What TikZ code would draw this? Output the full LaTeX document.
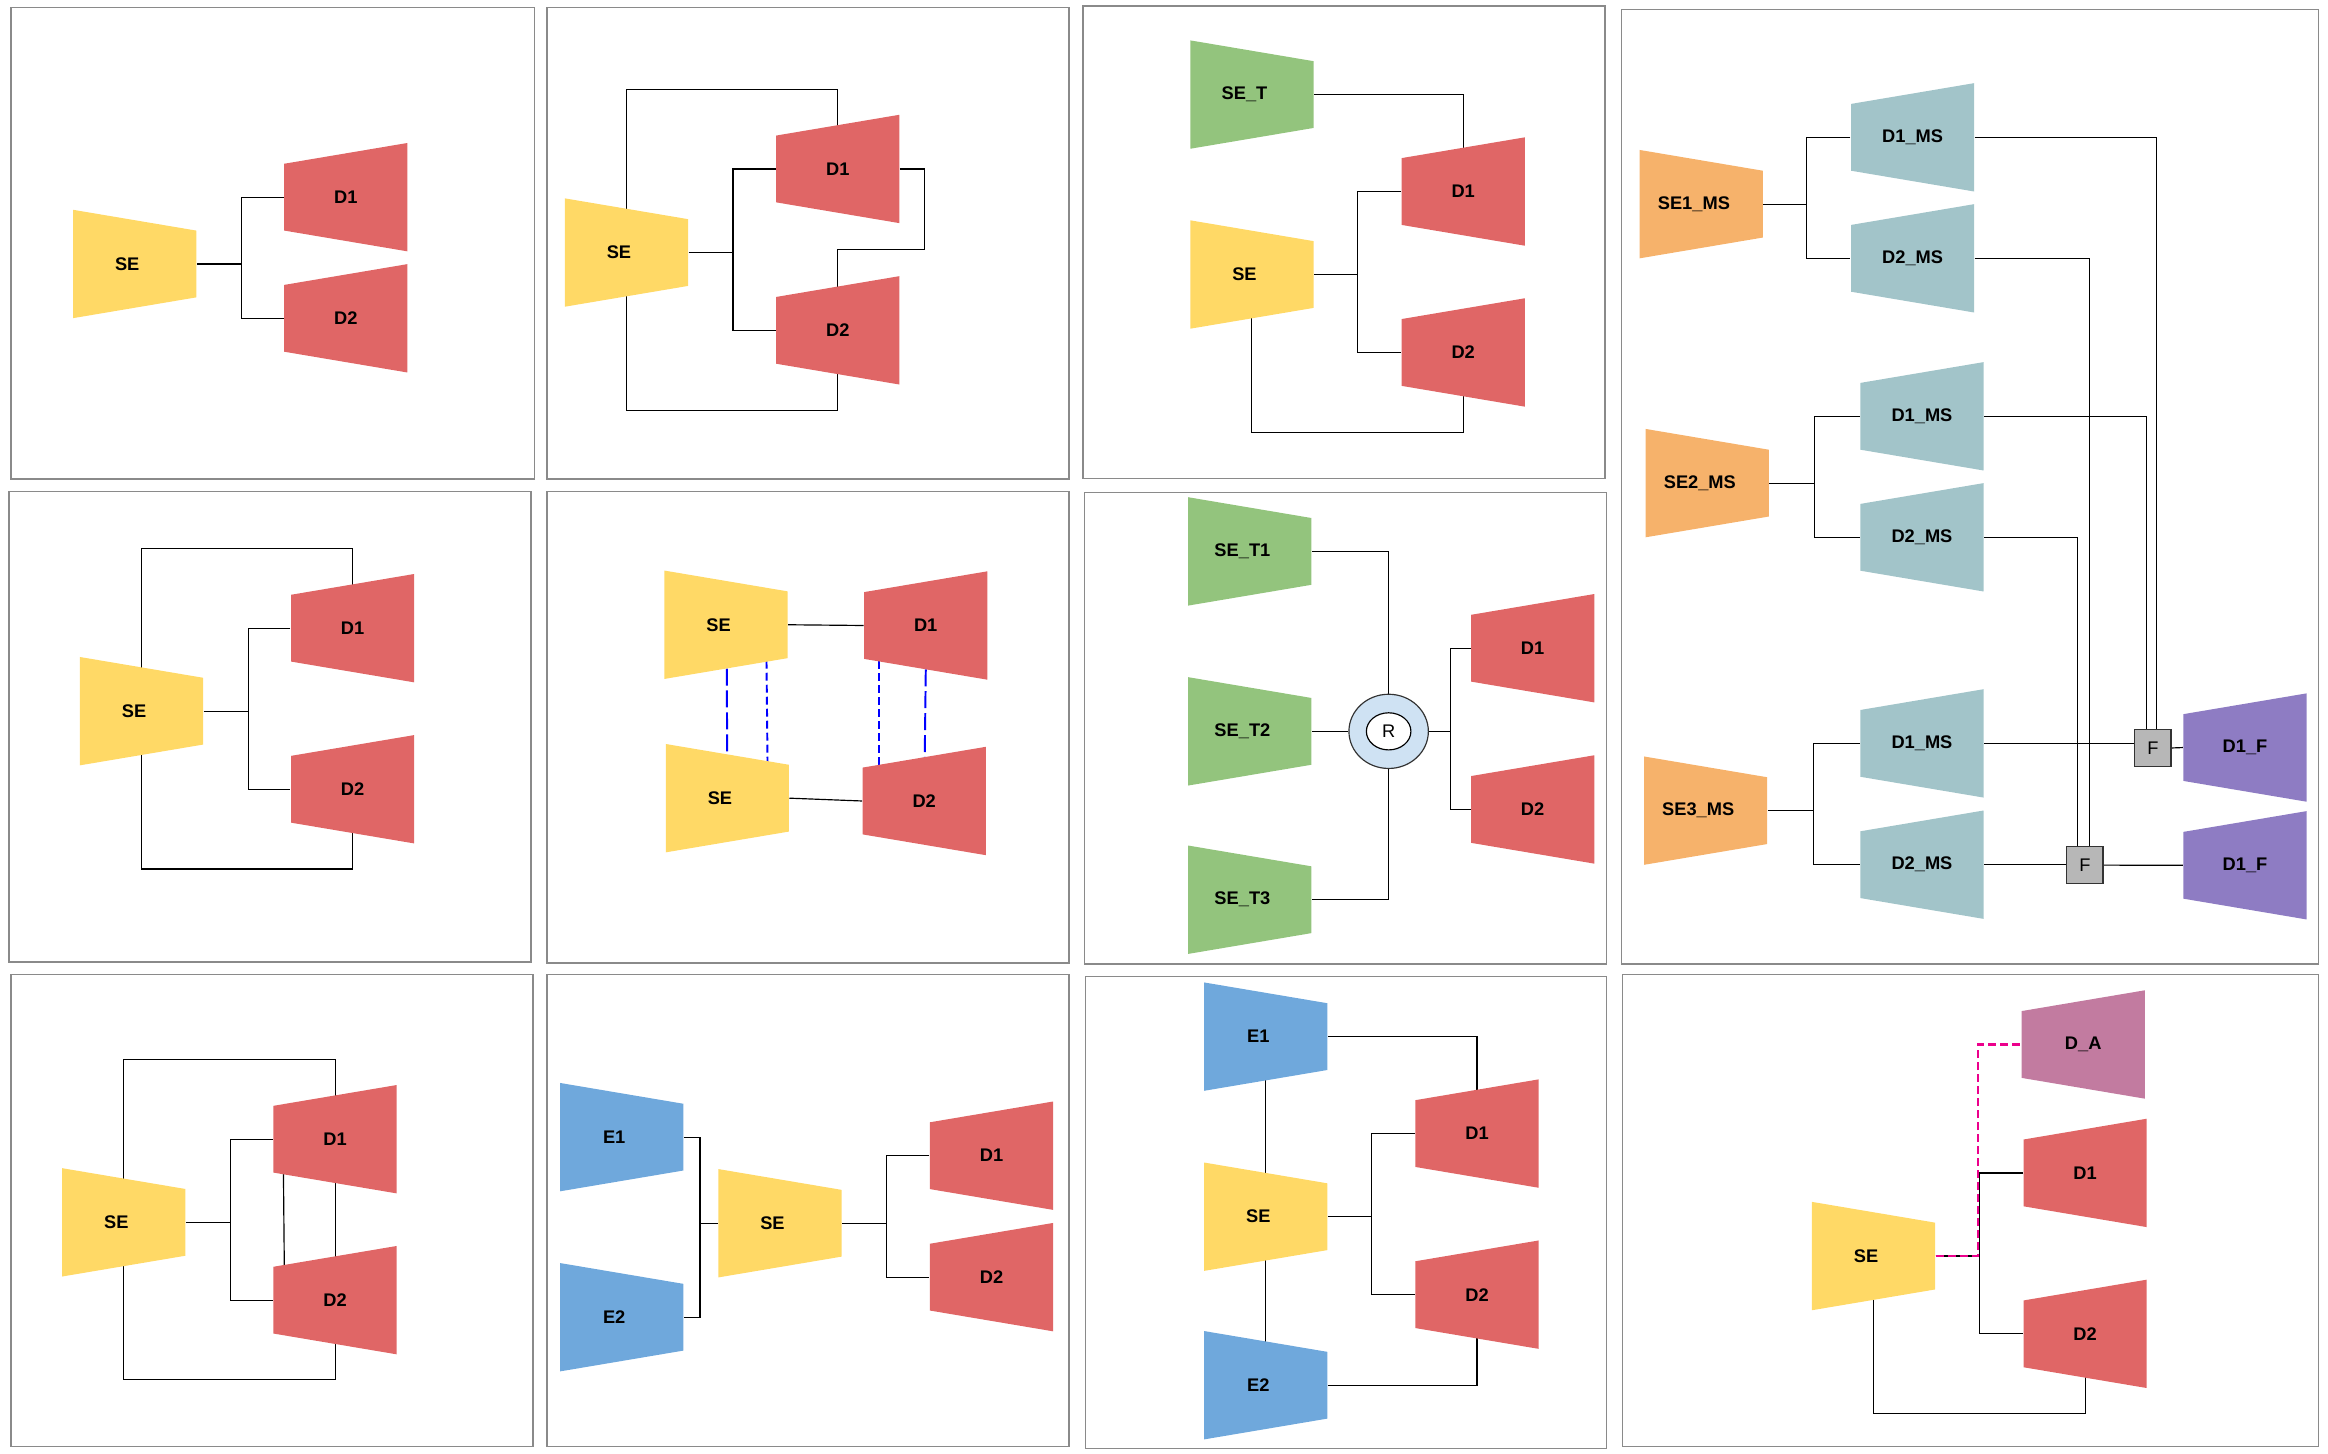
\documentclass[tikz,border=0pt]{standalone}
\usepackage{fontspec}
\setsansfont{Liberation Sans}
\usetikzlibrary{calc}
\usetikzlibrary{backgrounds}
\usetikzlibrary{shapes.geometric}

\definecolor{seyellow}{HTML}{FFD966}
\definecolor{dred}{HTML}{E06666}
\definecolor{tgreen}{HTML}{93C47D}
\definecolor{msorange}{HTML}{F6B26B}
\definecolor{msteal}{HTML}{A2C4C9}
\definecolor{fpurple}{HTML}{8E7CC3}
\definecolor{eblue}{HTML}{6FA8DC}
\definecolor{amauve}{HTML}{C27BA0}
\definecolor{fgray}{HTML}{B7B7B7}
\definecolor{rblue}{HTML}{CFE2F3}
\definecolor{framegray}{HTML}{8A8A8A}

\tikzset{
  lbl/.style={font=\sffamily\bfseries\fontsize{7}{8}\selectfont},
  enc/.style={lbl, minimum width=1.66cm, minimum height=1.46cm, inner sep=0pt,
    execute at begin node={\hspace*{-2mm}},
    path picture={\fill[#1] (path picture bounding box.north west)
      -- ([yshift=-2.8mm]path picture bounding box.north east)
      -- ([yshift=2.8mm]path picture bounding box.south east)
      -- (path picture bounding box.south west) -- cycle;}},
  dec/.style={lbl, minimum width=1.66cm, minimum height=1.46cm, inner sep=0pt,
    path picture={\fill[#1] ([yshift=-2.8mm]path picture bounding box.north west)
      -- (path picture bounding box.north east)
      -- (path picture bounding box.south east)
      -- ([yshift=2.8mm]path picture bounding box.south west) -- cycle;}},
  fbox/.style={draw=black!80, fill=fgray, line width=0.4pt, minimum size=0.49cm, inner sep=0pt,
    font=\sffamily\fontsize{7}{8}\selectfont},
  link/.style={line width=0.45pt},
  thinlink/.style={line width=0.3pt},
  panel/.style={draw=framegray, line width=0.55pt},
  bluelong/.style={blue, line width=0.75pt, dash pattern=on 6.5pt off 1.9pt},
  blueshort/.style={blue, line width=0.75pt, dash pattern=on 3pt off 1.6pt},
  adash/.style={magenta, line width=0.8pt, dash pattern=on 3pt off 1.6pt}
}

\begin{document}
\begin{tikzpicture}[x=0.02cm,y=-0.02cm]
  \useasboundingbox (0,0) rectangle (1568,979);
  % panel frames
  \foreach \xa/\ya/\xb/\yb in {7.5/5/360/322.5, 368.5/5/720/322.5, 729.5/4/1081/322.2,
      1092.3/6.3/1561.7/649.3, 6/331/357.6/648, 368.3/331/720/648.6, 730.6/331.6/1082.1/649.3,
      7.4/656.3/359/974.4, 368.3/656.3/720/974.4, 731.2/657.6/1082.1/975.7, 1092.8/656.3/1561.7/974.2}
    \draw[panel] (\xa,\ya) rectangle (\xb,\yb);

  % panel A
  \node[enc=seyellow] (seA) at (90.7,177.8) {SE};
  \node[dec=dred] (d1A) at (232.9,132.8) {D1};
  \node[dec=dred] (d2A) at (232.9,214.4) {D2};
  \begin{pgfonlayer}{background}
    \draw[link] (seA.east) -- ++(30,0) coordinate (jA);
    \draw[link] (d1A.west) -| (jA) |- (d2A.west);
  \end{pgfonlayer}

  % panel B
  \node[enc=seyellow] (seB) at (421.9,170.1) {SE};
  \node[dec=dred] (d1B) at (564.3,113.8) {D1};
  \node[dec=dred] (d2B) at (564.3,222.5) {D2};
  \begin{pgfonlayer}{background}
    \draw[link] (seB.east) -- ++(30,0) coordinate (jB);
    \draw[link] (d1B.west) -| (jB) |- (d2B.west);
    \draw[link] (seB.center) -- ++(0,-109.9) -| (d1B.center);
    \draw[link] (seB.center) -- ++(0,106.3) -| (d2B.center);
    \draw[link] (d1B.east) -- ++(16.6,0) -- ++(0,54.2) -| (d2B.center);
  \end{pgfonlayer}

  % panel C
  \node[enc=tgreen] (setC) at (843.2,63.7) {SE\_T};
  \node[enc=seyellow] (seC) at (843.2,184.9) {SE};
  \node[dec=dred] (d1C) at (985.5,129) {D1};
  \node[dec=dred] (d2C) at (985.5,237.4) {D2};
  \begin{pgfonlayer}{background}
    \draw[link] (setC.east) -| (d1C.center);
    \draw[link] (seC.east) -- ++(29,0) coordinate (jC);
    \draw[link] (d1C.west) -| (jC) |- (d2C.west);
    \draw[link] (seC.center) -- ++(0,106.3) -| (d2C.center);
  \end{pgfonlayer}

  % panel D
  \node[enc=msorange] (se1) at (1145.9,137.5) {SE1\_MS};
  \node[dec=msteal] (dm11) at (1288.2,92.5) {D1\_MS};
  \node[dec=msteal] (dm12) at (1288.2,174) {D2\_MS};
  \node[enc=msorange] (se2) at (1149.9,325.4) {SE2\_MS};
  \node[dec=msteal] (dm21) at (1294.5,280.4) {D1\_MS};
  \node[dec=msteal] (dm22) at (1294.5,361.9) {D2\_MS};
  \node[enc=msorange] (se3) at (1148.8,546) {SE3\_MS};
  \node[dec=msteal] (dm31) at (1294.5,500.7) {D1\_MS};
  \node[dec=msteal] (dm32) at (1294.5,582.4) {D2\_MS};
  \node[fbox] (fA) at (1450,503.8) {F};
  \node[fbox] (fB) at (1404.2,582.7) {F};
  \node[dec=fpurple] (df1) at (1512.1,503.5) {D1\_F};
  \node[dec=fpurple] (df2) at (1512.1,582.8) {D1\_F};
  \begin{pgfonlayer}{background}
    \draw[link] (se1.east) -- ++(29,0) coordinate (j1);
    \draw[link] (dm11.west) -| (j1) |- (dm12.west);
    \draw[link] (se2.east) -- ++(30.6,0) coordinate (j2);
    \draw[link] (dm21.west) -| (j2) |- (dm22.west);
    \draw[link] (se3.east) -- ++(31,0) coordinate (j3);
    \draw[link] (dm31.west) -| (j3) |- (dm32.west);
    \draw[link] (dm11.east) -| ($(fA.north)+(2.4,0)$);
    \draw[link] (dm21.east) -| ($(fA.north)+(-4,0)$);
    \draw[link] (dm12.east) -| ($(fB.north)+(3.2,0)$);
    \draw[link] (dm22.east) -| ($(fB.north)+(-4.9,0)$);
    \draw[link] (dm31.east) -- (dm31.east -| fA.west);
    \draw[link] (dm32.east) -- (dm32.east -| fB.west);
    \draw[link] (fA.east) -- (df1.west);
    \draw[link] (fB.east) -- (df2.west);
  \end{pgfonlayer}

  % panel E
  \node[enc=seyellow] (seE) at (95.3,479) {SE};
  \node[dec=dred] (d1E) at (237.5,423.1) {D1};
  \node[dec=dred] (d2E) at (237.5,531.6) {D2};
  \begin{pgfonlayer}{background}
    \draw[link] (seE.east) -- ++(30,0) coordinate (jE);
    \draw[link] (d1E.west) -| (jE) |- (d2E.west);
    \draw[link] (seE.center) -- ++(0,-109.7) -| (d1E.center);
    \draw[link] (seE.center) -- ++(0,106.3) -| (d2E.center);
  \end{pgfonlayer}

  % panel F
  \node[enc=seyellow] (seF1) at (489,420.8) {SE};
  \node[enc=seyellow] (seF2) at (489.9,537.6) {SE};
  \node[dec=dred] (d1F) at (623.5,421.3) {D1};
  \node[dec=dred] (d2F) at (622.5,539.5) {D2};
  \begin{pgfonlayer}{background}
    \draw[link] (seF1.east) -- (d1F.west);
    \draw[link] (seF2.east) -- (d2F.west);
    \draw[bluelong] ($(seF1.center)+(0.4,0)$) -- (seF2.center);
    \draw[blueshort] ($(seF1.center)+(27,0)$) -- ($(seF2.center)+(27.3,0)$);
    \draw[blueshort] ($(d1F.center)+(-31.6,0)$) -- ($(d2F.center)+(-30.6,0)$);
    \draw[bluelong] ($(d1F.center)+(0.4,0)$) -- (d2F.center);
  \end{pgfonlayer}

  % panel G
  \node[enc=tgreen] (st1) at (841.8,371.4) {SE\_T1};
  \node[enc=tgreen] (st2) at (841.8,492.6) {SE\_T2};
  \node[enc=tgreen] (st3) at (841.8,606) {SE\_T3};
  \node[ellipse, draw=black!80, fill=rblue, line width=0.45pt, minimum width=1.07cm,
    minimum height=1cm, inner sep=0pt] (rOut) at (935.3,492.6) {};
  \node[ellipse, draw=black, fill=white, line width=0.45pt, minimum width=0.6cm,
    minimum height=0.5cm, inner sep=0pt, font=\sffamily\fontsize{7}{8}\selectfont] (rIn) at (rOut) {R};
  \node[dec=dred] (d1G) at (1032.3,436.6) {D1};
  \node[dec=dred] (d2G) at (1032.3,545.2) {D2};
  \begin{pgfonlayer}{background}
    \draw[link] (st1.east) -| (rOut.north);
    \draw[link] (st2.east) -- (rOut.west);
    \draw[link] (st3.east) -| (rOut.south);
    \draw[link] (rOut.east) -- ++(14.5,0) coordinate (jG);
    \draw[link] (d1G.west) -| (jG) |- (d2G.west);
  \end{pgfonlayer}

  % panel H
  \node[enc=seyellow] (seH) at (83.3,823.3) {SE};
  \node[dec=dred] (d1H) at (225.7,767.3) {D1};
  \node[dec=dred] (d2H) at (225.7,875.7) {D2};
  \begin{pgfonlayer}{background}
    \draw[link] (seH.east) -- ++(30,0) coordinate (jH);
    \draw[link] (d1H.west) -| (jH) |- (d2H.west);
    \draw[link] (seH.center) -- ++(0,-109.8) -| ($(d2H.center)+(0,53.3)$) -| (seH.center);
    \draw[link] ($(d1H.center)+(-35,0)$) -- ($(d2H.center)+(-34,0)$);
  \end{pgfonlayer}

  % panel I
  \node[enc=eblue] (e1I) at (418.7,765.9) {E1};
  \node[enc=eblue] (e2I) at (418.7,887.2) {E2};
  \node[enc=seyellow] (seI) at (525.3,823.9) {SE};
  \node[dec=dred] (d1I) at (667.8,778.4) {D1};
  \node[dec=dred] (d2I) at (667.8,860.2) {D2};
  \begin{pgfonlayer}{background}
    \draw[link] (seI.west) -- ++(-12,0) coordinate (jI1);
    \draw[link] (e1I.east) -| (jI1) |- (e2I.east);
    \draw[link] (seI.east) -- ++(30,0) coordinate (jI2);
    \draw[link] (d1I.west) -| (jI2) |- (d2I.west);
  \end{pgfonlayer}

  % panel J
  \node[enc=eblue] (e1J) at (852.5,698.2) {E1};
  \node[enc=seyellow] (seJ) at (852.5,819.5) {SE};
  \node[enc=eblue] (e2J) at (852.5,933) {E2};
  \node[dec=dred] (d1J) at (994.8,763.5) {D1};
  \node[dec=dred] (d2J) at (994.8,872) {D2};
  \begin{pgfonlayer}{background}
    \draw[link] (e1J.east) -| (d1J.center);
    \draw[link] (e2J.east) -| (d2J.center);
    \draw[link] (seJ.east) -- ++(29.5,0) coordinate (jJ);
    \draw[link] (d1J.west) -| (jJ) |- (d2J.west);
    \draw[thinlink] (e1J.center) -- (seJ.center);
    \draw[thinlink] (seJ.center) -- (e2J.center);
  \end{pgfonlayer}

  % panel K
  \node[enc=seyellow] (seK) at (1261.9,846) {SE};
  \node[dec=amauve] (daK) at (1403.1,703.5) {D\_A};
  \node[dec=dred] (d1K) at (1404.4,790) {D1};
  \node[dec=dred] (d2K) at (1404.4,898.4) {D2};
  \begin{pgfonlayer}{background}
    \draw[link] (seK.east) -- ++(29.5,0) coordinate (jK);
    \draw[link] (d1K.west) -| (jK) |- (d2K.west);
    \draw[link] (seK.center) -- ++(0,106) -| (d2K.center);
    \draw[adash] (seK.east) -- ++(28.4,0) |- (daK.west);
  \end{pgfonlayer}
\end{tikzpicture}
\end{document}
